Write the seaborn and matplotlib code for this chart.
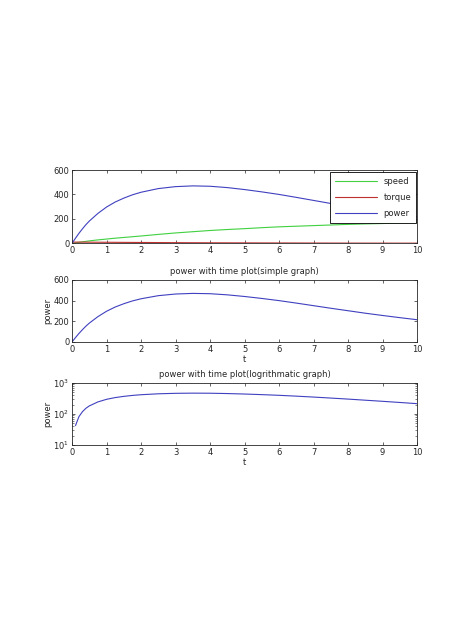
import pandas as pd
import seaborn as sns
import matplotlib.pyplot as plt

# data
t = [0, 0.1, 0.2, 0.3, 0.4, 0.5, 0.75, 1, 1.25, 1.5, 1.75, 2, 2.5, 3, 3.5, 4, 4.5, 5, 5.5, 6, 6.5, 7, 7.5, 8, 8.5, 9, 9.5, 10]
speed = [0, 4, 8, 12, 16, 20, 28, 35, 42, 48, 54, 60, 73, 85, 95, 105, 113, 120, 128, 135, 140, 145, 150, 155, 159, 162, 166, 170]
torque = [10, 10, 10, 9.8, 9.5, 9.3, 8.9, 8.6, 8.1, 7.7, 7.3, 7.0, 6.2, 5.5, 4.9, 4.4, 4.0, 3.7, 3.3, 3.0, 2.7, 2.4, 2.2, 1.9, 1.7, 1.6, 1.4, 1.3]
power = [0, 42, 82, 118, 152, 182, 245, 297, 338, 370, 397, 418, 448, 464, 470, 467, 456, 440, 421, 400, 376, 351, 326, 302, 278, 256, 235, 215]

df = pd.DataFrame({'t': t, 'speed': speed, 'torque': torque, 'power': power})

sns.set_style('ticks')
plt.rcParams['font.family'] = ['DejaVu Sans']
plt.rcParams['font.size'] = 6
plt.rcParams['xtick.direction'] = 'in'
plt.rcParams['ytick.direction'] = 'in'
plt.rcParams['xtick.top'] = True
plt.rcParams['ytick.right'] = True

fig = plt.figure(figsize=(4.74, 6.32), dpi=100)
L, W = 0.152, 0.728
ax1 = fig.add_axes([L, 0.615, W, 0.116])
ax2 = fig.add_axes([L, 0.459, W, 0.098])
ax3 = fig.add_axes([L, 0.296, W, 0.098])

pal = {'speed': '#40d040', 'torque': '#c03030', 'power': '#4040c0'}
for name in ['speed', 'torque', 'power']:
    sns.lineplot(data=df, x='t', y=name, color=pal[name], label=name, linewidth=0.8, ax=ax1)
ax1.set_xlim(0, 10)
ax1.set_ylim(0, 600)
ax1.set_yticks([0, 200, 400, 600])
ax1.set_xticks(range(11))
ax1.set_xlabel('')
ax1.set_ylabel('')
leg = ax1.legend(loc='upper right', fancybox=False, edgecolor='black', fontsize=6,
                 handlelength=5, labelspacing=0.8, borderpad=0.6, framealpha=1,
                 bbox_to_anchor=(1.0, 0.98), borderaxespad=0.1)
leg.get_frame().set_linewidth(0.6)

sns.lineplot(data=df, x='t', y='power', color='#4040c0', linewidth=0.8, ax=ax2)
ax2.set_xlim(0, 10)
ax2.set_ylim(0, 600)
ax2.set_yticks([0, 200, 400, 600])
ax2.set_xticks(range(11))
ax2.set_title('power with time plot(simple graph)', fontsize=6, pad=4)
ax2.set_xlabel('t', labelpad=1)
ax2.set_ylabel('power', labelpad=1)

df_log = df[df['t'] > 0]
sns.lineplot(data=df_log, x='t', y='power', color='#4040c0', linewidth=0.8, ax=ax3)
ax3.set_yscale('log')
ax3.set_xlim(0, 10)
ax3.set_ylim(10, 1000)
ax3.set_xticks(range(11))
ax3.set_title('power with time plot(logrithmatic graph)', fontsize=6, pad=4)
ax3.set_xlabel('t', labelpad=1)
ax3.set_ylabel('power', labelpad=1)
ax3.tick_params(which='minor', length=1.5, width=0.4)

for ax in (ax1, ax2, ax3):
    ax.tick_params(which='major', length=2.5, width=0.5, pad=2, labelsize=6)
    for s in ax.spines.values():
        s.set_linewidth(0.6)

fig.savefig('out.png', dpi=100)
